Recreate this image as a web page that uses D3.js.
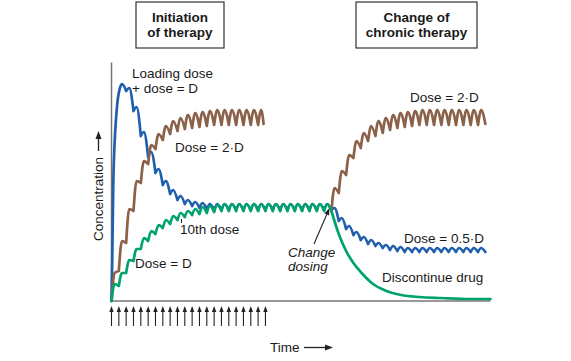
<!DOCTYPE html>
<html><head><meta charset="utf-8">
<script src="https://cdn.jsdelivr.net/npm/d3@7/dist/d3.min.js"></script>
<style>
body{margin:0;background:#fff}
svg{display:block}
text{font-family:"Liberation Sans", Arial, Helvetica, sans-serif; fill:#1a1a1a}
</style>
</head><body>
<svg id="chart" width="571" height="361"></svg>
<script>
// ---------- data (time in dosing intervals, concentration in arbitrary units) ----------
const doseArrows = [0,1,2,3,4,5,6,7,8,9,10,11,12,13,14,15,16,17,18,19,20,21];

// Dose = D (green), doses 0..29: troughs at dose times, peaks shortly after
const greenTroughs = [0,15,28,40,52,60,67,73,77,81,84,86,87,88,89,90,90,90,90,90,90,90,90,90,90,90,90,90,90,90,90];
const greenPeaks   = [17,28,41,52,63,70,76,81,85,88,90,92,94,95,96,97,97,97,97,97,97,97,97,97,97,97,97,97,97,97];
// Discontinue drug (green) after t = 30
const stopTimes = [30,31,32,33,34,35.5,37.5,39.5,42,45,49,51.7];
const stopConc  = [90,67,50,38,29,18,10,6,4,3,2,2];

// Loading dose + dose = D (blue)
const loadTimes = [0,0.1,0.25,0.7,1.15,1.45,2.0];
const loadConc  = [0,40,120,190,213,217,210];
const blueTroughs = [210,190,165,144,128,116,107,101,97,95,93,92,91,91,91,91,91,91,91,91,91,91,91,91,91,91,91,91,
                     91,80,72,66,61,57,55,53,51,50,49,49,49,49,49,49,49,49,49,49,49,49];
const bluePeaks   = [213,194,169,149,132,120,111,105,101,99,98,97,97,97,97,97,97,97,97,97,97,97,97,97,97,97,97,97,
                     93,83,75,69,64,61,58,56,55,54,53,53,53,53,53,53,53,53,53,53,53];
const blueFirst = 2;

// Dose = 2·D from start (brown), doses 0..20
const brownTroughs = [0,30,58,90,118,137,152,161,167,170,172,173,174,175,176,176,176,176,176,176,176,177];
const brownPeaks   = [28,60,92,120,140,156,167,175,180,183,186,188,189,190,191,191,191,191,191,191,191];
const brownEnd = 20.75;

// Change of chronic therapy to 2·D (brown), doses 30..50
const brown2Troughs = [90,108,126,143,153,160,165,168,171,173,174,175,176,176,176,176,176,176,176,176,176,177];
const brown2Peaks   = [113,130,146,160,168,175,180,183,186,188,189,190,191,191,191,191,191,191,191,191,191];
const brown2First = 30;

const colors = {blue:"#1f5fae", brown:"#8c6149", green:"#00a36c", axis:"#777", ink:"#222"};

// ---------- drawing ----------
const svg = d3.select("#chart");
const x = d3.scaleLinear().domain([0, 51.7]).range([111.5, 490.5]);
const y = d3.scaleLinear().domain([0, 239]).range([301, 62]);

const line = d3.line().x(d => x(d[0])).y(d => y(d[1])).curve(d3.curveMonotoneX);
const PEAK = 0.42;

function scallops(first, troughs, peaks, endT) {
  let d = "";
  peaks.forEach((p, i) => {
    const n = first + i;
    const last = i === peaks.length - 1;
    const tEnd = (last && endT !== undefined) ? endT : n + 1;
    d += line([[n, troughs[i]], [n + PEAK, p], [tEnd, troughs[i + 1]]]);
  });
  return d;
}

// axes
svg.append("g").attr("transform", "translate(111,0)")
  .call(d3.axisLeft(y).tickValues([]).tickSizeOuter(0))
  .call(g => g.select(".domain").attr("stroke", colors.axis).attr("stroke-width", 1.5));
svg.append("g").attr("transform", "translate(0,301)")
  .call(d3.axisBottom(x).tickValues([]).tickSizeOuter(0))
  .call(g => g.select(".domain").attr("stroke", colors.axis).attr("stroke-width", 1.5)
    .attr("d", `M${x(0)-0.5},0H${x.range()[1]}`));

const curves = svg.append("g").attr("fill", "none").attr("stroke-width", 2.7)
  .attr("stroke-linejoin", "round").attr("stroke-linecap", "round");

// blue
const loadPts = loadTimes.map((t, i) => [t, loadConc[i]]);
curves.append("path").attr("stroke", colors.blue)
  .attr("d", line(loadPts) + scallops(blueFirst, blueTroughs, bluePeaks));
// brown
curves.append("path").attr("stroke", colors.brown)
  .attr("d", scallops(0, brownTroughs, brownPeaks, brownEnd));
curves.append("path").attr("stroke", colors.brown)
  .attr("d", scallops(brown2First, brown2Troughs, brown2Peaks));
// green
const stopPts = stopTimes.map((t, i) => [t, stopConc[i]]);
curves.append("path").attr("stroke", colors.green)
  .attr("d", scallops(0, greenTroughs, greenPeaks) + line(stopPts));

// dose arrows
const arrows = svg.append("g").attr("fill", colors.ink).attr("stroke", colors.ink);
doseArrows.forEach(t => {
  const xx = x(t);
  arrows.append("line").attr("x1", xx).attr("x2", xx).attr("y1", 326).attr("y2", 311).attr("stroke-width", 1.1);
  arrows.append("path").attr("stroke", "none").attr("d", `M${xx-2.2},312L${xx},306L${xx+2.2},312Z`);
});

// title boxes
function box(x0, y0, w, h, lines) {
  svg.append("rect").attr("x", x0).attr("y", y0).attr("width", w).attr("height", h)
    .attr("fill", "none").attr("stroke", "#333").attr("stroke-width", 1.2);
  lines.forEach((s, i) => svg.append("text").attr("x", x0 + w / 2).attr("y", 21.5 + i * 15.5)
    .attr("text-anchor", "middle").attr("font-size", 13.5).attr("font-weight", "bold").text(s));
}
box(136, 2, 88, 46, ["Initiation", "of therapy"]);
box(356, 2, 121, 46, ["Change of", "chronic therapy"]);

// labels
function label(tx, ty, s, italic) {
  const t = svg.append("text").attr("x", tx).attr("y", ty).attr("font-size", 13.5).text(s);
  if (italic) t.attr("font-style", "italic");
  return t;
}
label(132, 78, "Loading dose");
label(132, 93, "+ dose = D");
label(175, 152, "Dose = 2\u00b7D");
label(180, 234, "10th dose");
label(135, 268, "Dose = D");
label(410, 101.5, "Dose = 2\u00b7D");
label(404, 243, "Dose = 0.5\u00b7D");
label(382, 282, "Discontinue drug");
label(288, 257, "Change", true);
label(288, 271, "dosing", true);

// 10th dose marker
svg.append("line").attr("x1", 181.5).attr("x2", 181.5).attr("y1", 219).attr("y2", 223)
  .attr("stroke", colors.ink).attr("stroke-width", 1);

// change-dosing arrow
(function () {
  const x1 = 314, y1 = 244, x2 = 329.5, y2 = 208;
  const a = Math.atan2(y2 - y1, x2 - x1);
  const L = 7, W = 2.6;
  const bx = x2 - L * Math.cos(a), by = y2 - L * Math.sin(a);
  svg.append("line").attr("x1", x1).attr("y1", y1).attr("x2", bx).attr("y2", by)
    .attr("stroke", colors.ink).attr("stroke-width", 1.1);
  svg.append("path").attr("fill", colors.ink)
    .attr("d", `M${x2},${y2}L${bx + W * Math.sin(a)},${by - W * Math.cos(a)}L${bx - W * Math.sin(a)},${by + W * Math.cos(a)}Z`);
})();

// axis titles
svg.append("text").attr("transform", "translate(103,199) rotate(-90)")
  .attr("text-anchor", "middle").attr("font-size", 13.5).text("Concentration");
svg.append("line").attr("x1", 98.5).attr("x2", 98.5).attr("y1", 151).attr("y2", 138)
  .attr("stroke", colors.ink).attr("stroke-width", 1.3);
svg.append("path").attr("fill", colors.ink).attr("d", "M95.5,139L98.5,131L101.5,139Z");

svg.append("text").attr("x", 270).attr("y", 352).attr("font-size", 13.5).text("Time");
svg.append("line").attr("x1", 304).attr("x2", 326).attr("y1", 347.5).attr("y2", 347.5)
  .attr("stroke", colors.ink).attr("stroke-width", 1.3);
svg.append("path").attr("fill", colors.ink).attr("d", "M325,344.5L333,347.5L325,350.5Z");
</script>
</body></html>
